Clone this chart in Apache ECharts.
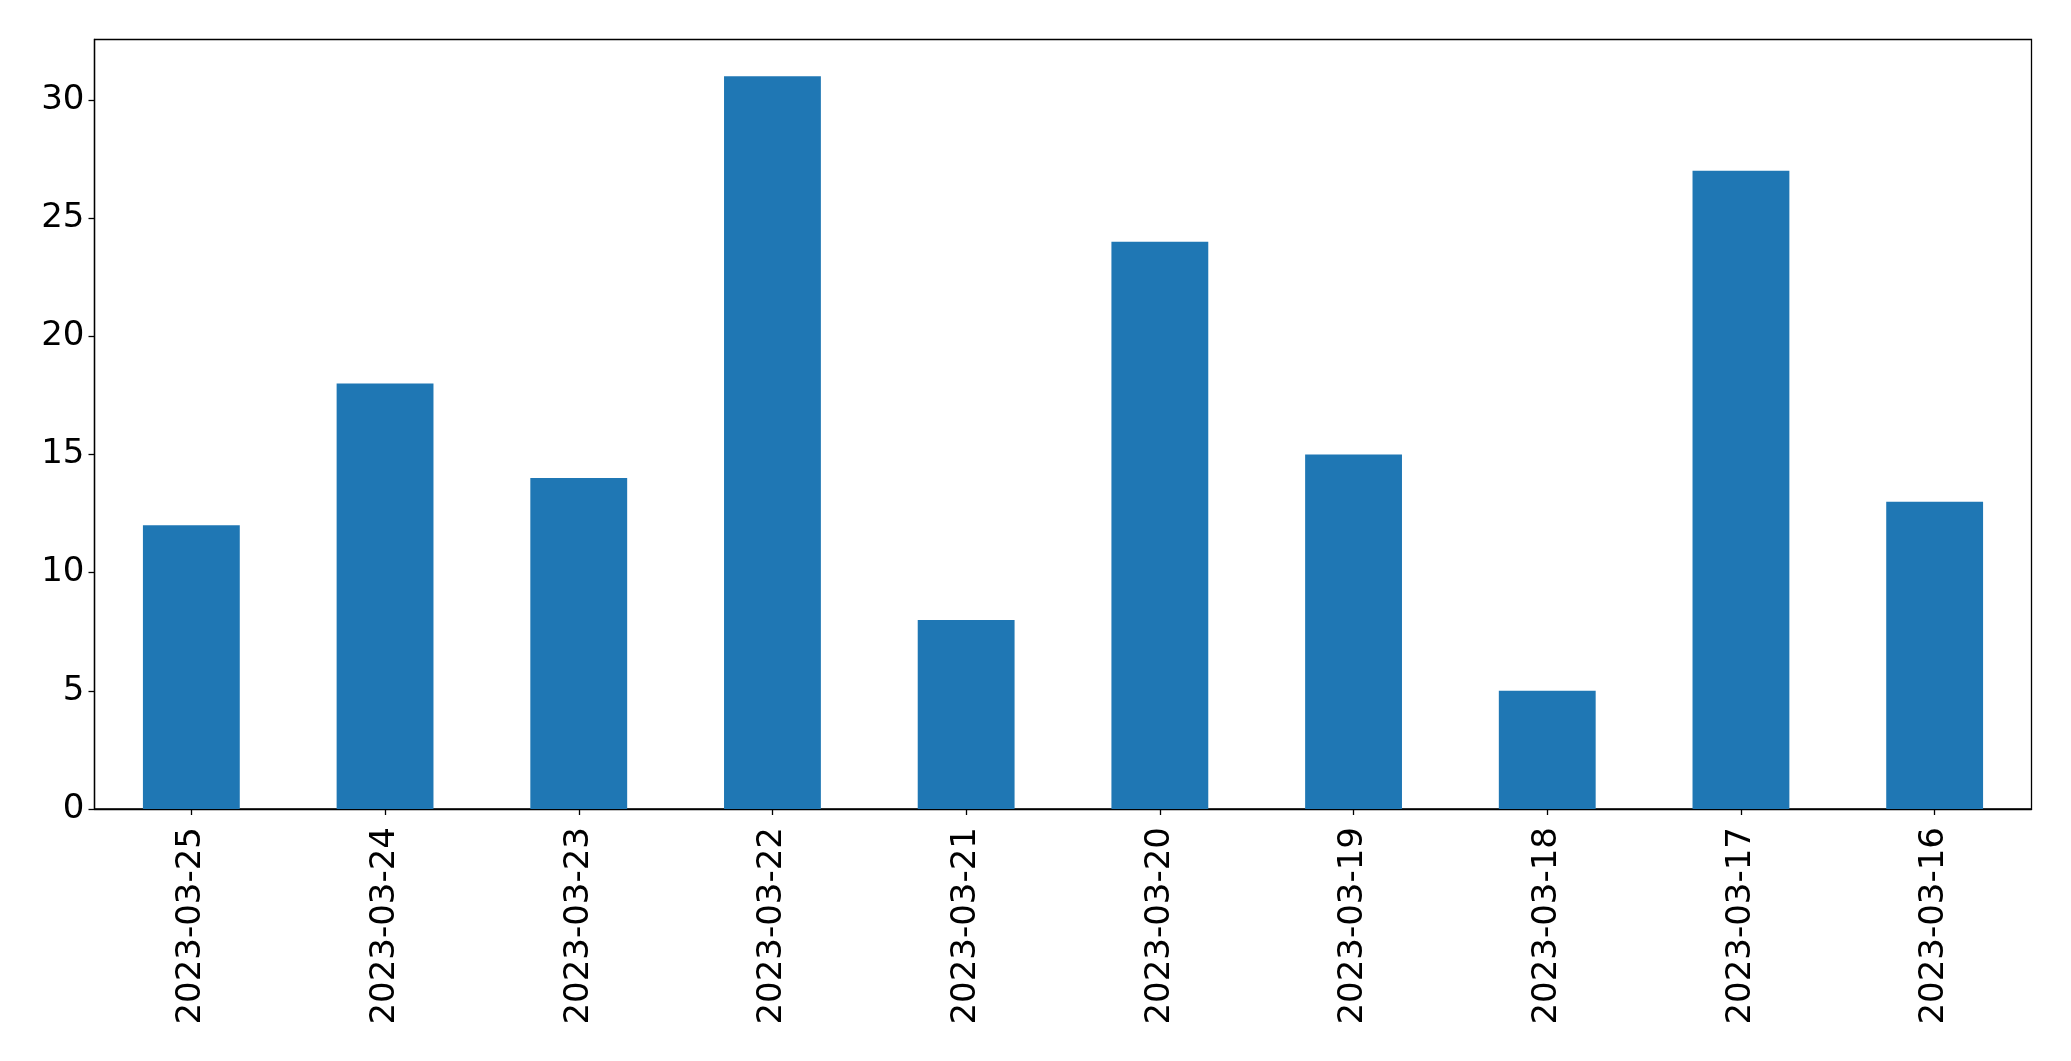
<!DOCTYPE html>
<html>
<head>
<meta charset="utf-8">
<script src="https://cdn.jsdelivr.net/npm/echarts@6/dist/echarts.min.js"></script>
<style>
html,body{margin:0;padding:0;background:#fff;}
#chart{width:2071px;height:1061px;}
</style>
</head>
<body>
<div id="chart"></div>
<script>
const categories = ['2023-03-25','2023-03-24','2023-03-23','2023-03-22','2023-03-21','2023-03-20','2023-03-19','2023-03-18','2023-03-17','2023-03-16'];
const values = [12, 18, 14, 31, 8, 24, 15, 5, 27, 13];
const yTicks = [0, 5, 10, 15, 20, 25, 30];

const chart = echarts.init(document.getElementById('chart'), null, {renderer: 'canvas'});
const font = 'DejaVu Sans';
chart.setOption({
  animation: false,
  backgroundColor: '#ffffff',
  grid: {
    left: 94.5, right: 39.5, top: 39.5, bottom: 252,
    show: true, borderColor: '#000', borderWidth: 1.3, backgroundColor: 'transparent'
  },
  xAxis: {
    type: 'category',
    data: categories,
    axisLine: {show: true, lineStyle: {color: '#000', width: 1.3}},
    axisTick: {show: true, alignWithLabel: true, length: 6, lineStyle: {color: '#000', width: 1.3}},
    axisLabel: {rotate: 90, margin: 18, color: '#000', fontFamily: font, fontSize: 34, interval: 0},
    splitLine: {show: false}
  },
  yAxis: {
    type: 'value',
    min: 0, max: 32.55, interval: 5,
    axisLine: {show: true, lineStyle: {color: '#000', width: 1.3}},
    axisTick: {show: true, length: 6, customValues: yTicks, lineStyle: {color: '#000', width: 1.3}},
    axisLabel: {margin: 10, color: '#000', fontFamily: font, fontSize: 34, customValues: yTicks},
    splitLine: {show: false}
  },
  series: [{
    type: 'bar',
    data: values,
    barWidth: '50%',
    itemStyle: {color: '#1f77b4'}
  }]
});
</script>
</body>
</html>
